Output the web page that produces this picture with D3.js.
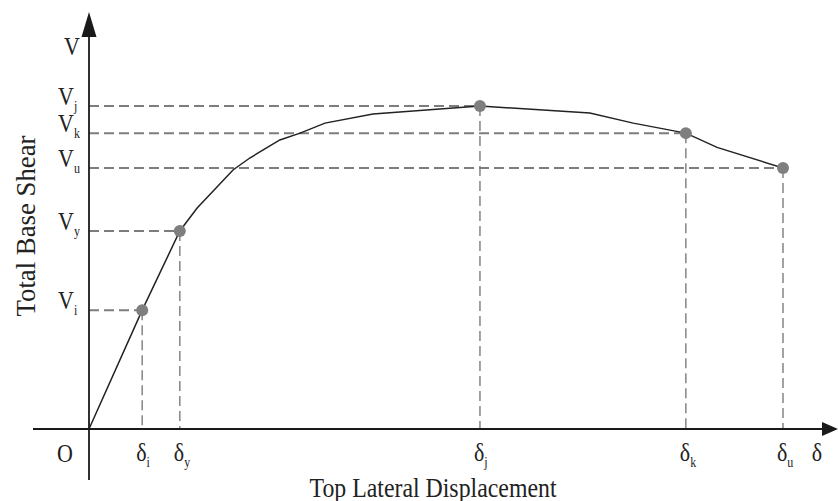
<!DOCTYPE html>
<html>
<head>
<meta charset="utf-8">
<script src="https://cdn.jsdelivr.net/npm/d3@7"></script>
<style>
  html, body { margin: 0; padding: 0; background: #fff; }
  svg { display: block; }
  text { font-family: "Liberation Serif", "Times New Roman", serif; fill: #222; }
</style>
</head>
<body>
<svg id="chart" width="838" height="501"></svg>
<script>
// Pushover (capacity) curve: top lateral displacement vs. total base shear
const curveDisp  = [0, 9.2, 15.7, 18.7, 24.9, 27.8, 33.0, 36.5, 40.8, 49.1, 67.6, 86.6, 94.1, 103.2, 108.6, 120];
const curveShear = [0, 36.8, 61.3, 68.4, 80.2, 83.9, 89.5, 91.6, 94.7, 97.5, 100, 97.8, 94.7, 91.6, 87.2, 80.8];

// Characteristic points on the curve
const pointKeys  = ["i", "y", "j", "k", "u"];
const pointDisp  = [9.2, 15.7, 67.6, 103.2, 120];
const pointShear = [36.8, 61.3, 100, 91.6, 80.8];

// Axis labels
const xTitle = "Top Lateral Displacement";
const yTitle = "Total Base Shear";
const xSymbol = "δ";
const ySymbol = "V";
const originLabel = "O";

const svg = d3.select("#chart");
const W = 838, H = 501;
const STRETCH = 1.18;   // glyphs are drawn slightly condensed (taller than wide)

// Scales: origin of the diagram and extents of the plotted region
const x = d3.scaleLinear().domain([0, 120]).range([89, 783]);
const y = d3.scaleLinear().domain([0, 100]).range([429, 106]);

const x0 = x(0), y0 = y(0);

// Text placed at (px, py) with a vertical stretch around its baseline
function label(parent, px, py, extra = "") {
  return parent.append("text")
    .attr("transform", `translate(${px},${py}) ${extra} scale(1,${STRETCH})`);
}

// Guide lines (dashed) from each characteristic point to both axes
const guides = svg.append("g");
pointKeys.forEach((k, i) => {
  guides.append("line")
    .attr("x1", x0).attr("x2", x(pointDisp[i]))
    .attr("y1", y(pointShear[i])).attr("y2", y(pointShear[i]))
    .attr("stroke", "#7d7d7d").attr("stroke-width", 2)
    .attr("stroke-dasharray", "10,5");
  guides.append("line")
    .attr("x1", x(pointDisp[i])).attr("x2", x(pointDisp[i]))
    .attr("y1", y(pointShear[i])).attr("y2", y0)
    .attr("stroke", "#8c8c8c").attr("stroke-width", 1.6)
    .attr("stroke-dasharray", "10,5");
});

// Axes with arrowheads
const axisColor = "#1a1a1a";
svg.append("line")
  .attr("x1", 33).attr("x2", W - 12)
  .attr("y1", y0).attr("y2", y0)
  .attr("stroke", axisColor).attr("stroke-width", 1.8);
svg.append("line")
  .attr("x1", x0).attr("x2", x0)
  .attr("y1", 480).attr("y2", 30)
  .attr("stroke", axisColor).attr("stroke-width", 1.8);
svg.append("path")
  .attr("d", `M${W},${y0} L${W - 16},${y0 - 7} L${W - 16},${y0 + 7} Z`)
  .attr("fill", axisColor);
svg.append("path")
  .attr("d", `M${x0},12 L${x0 - 7.5},37 L${x0 + 7.5},37 Z`)
  .attr("fill", axisColor);

// Capacity curve
const line = d3.line()
  .x((d, i) => x(curveDisp[i]))
  .y((d, i) => y(curveShear[i]))
  .curve(d3.curveLinear);
svg.append("path")
  .datum(curveDisp)
  .attr("d", line)
  .attr("fill", "none")
  .attr("stroke", "#222")
  .attr("stroke-width", 1.5);

// Point markers
svg.append("g").selectAll("circle")
  .data(pointKeys)
  .join("circle")
  .attr("cx", (d, i) => x(pointDisp[i]))
  .attr("cy", (d, i) => y(pointShear[i]))
  .attr("r", 6)
  .attr("fill", "#7f7f7f");

// Shear labels on the vertical axis
const yLab = svg.append("g").attr("font-size", 22);
label(yLab, 80, 55).attr("text-anchor", "end").text(ySymbol);
pointKeys.forEach((k, i) => {
  const t = label(yLab, 58, y(pointShear[i]) - 1);
  t.append("tspan").text(ySymbol);
  t.append("tspan").attr("font-size", 12).attr("dy", 5).text(k);
});

// Displacement labels under the horizontal axis
const xLab = svg.append("g").attr("font-size", 22);
pointKeys.forEach((k, i) => {
  const t = label(xLab, x(pointDisp[i]) - 6, 461);
  t.append("tspan").text(xSymbol);
  t.append("tspan").attr("font-size", 12).attr("dy", 5).text(k);
});
label(xLab, 817, 461).attr("text-anchor", "middle").text(xSymbol);
label(xLab, 65, 462).attr("text-anchor", "middle").text(originLabel);

// Axis titles
label(svg, 433, 497)
  .attr("text-anchor", "middle")
  .attr("font-size", 23)
  .attr("textLength", 247)
  .attr("lengthAdjust", "spacingAndGlyphs")
  .text(xTitle);
label(svg, 35, 226, "rotate(-90)")
  .attr("text-anchor", "middle")
  .attr("font-size", 23)
  .attr("textLength", 181)
  .attr("lengthAdjust", "spacingAndGlyphs")
  .text(yTitle);
</script>
</body>
</html>
